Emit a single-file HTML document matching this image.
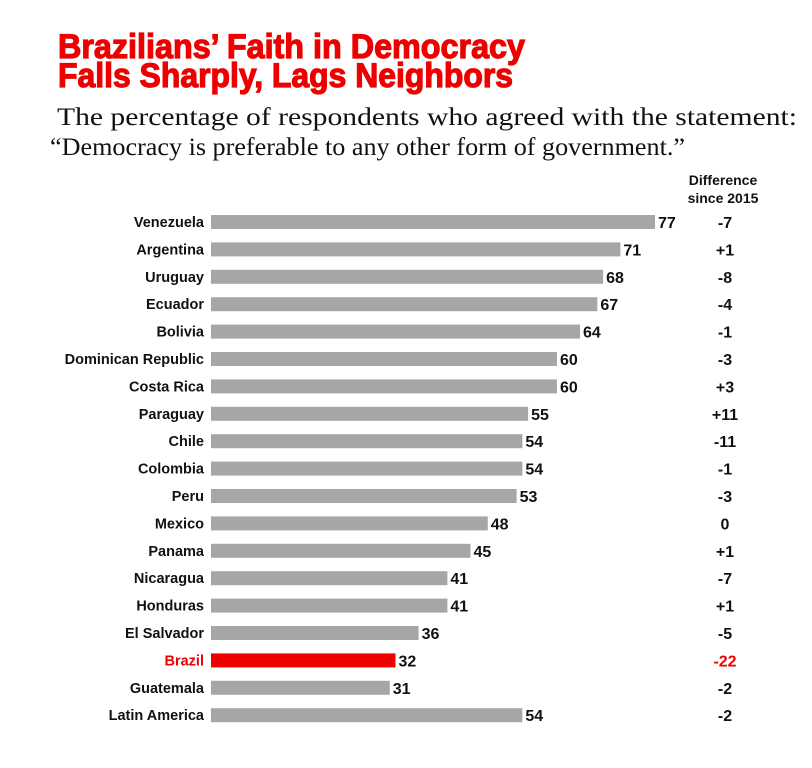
<!DOCTYPE html>
<html><head><meta charset="utf-8"><style>
html,body{margin:0;padding:0;background:#fff;}
svg{display:block;}
</style></head><body>
<svg id="chart" width="812" height="768" xmlns="http://www.w3.org/2000/svg">
<text x="58" y="58" font-family="Liberation Sans, sans-serif" font-weight="bold" font-size="34" fill="#ee0000" stroke="#ee0000" stroke-width="1.2" textLength="467" lengthAdjust="spacingAndGlyphs">Brazilians’ Faith in Democracy</text>
<text x="58" y="87" font-family="Liberation Sans, sans-serif" font-weight="bold" font-size="34" fill="#ee0000" stroke="#ee0000" stroke-width="1.2" textLength="455" lengthAdjust="spacingAndGlyphs">Falls Sharply, Lags Neighbors</text>
<text x="57" y="125" font-family="Liberation Serif, serif" font-size="25" fill="#111" textLength="740" lengthAdjust="spacingAndGlyphs">The percentage of respondents who agreed with the statement:</text>
<text x="50" y="155" font-family="Liberation Serif, serif" font-size="25" fill="#111" textLength="635" lengthAdjust="spacingAndGlyphs">“Democracy is preferable to any other form of government.”</text>
<text x="723" y="185" text-anchor="middle" font-family="Liberation Sans, sans-serif" font-weight="bold" font-size="14" fill="#111">Difference</text>
<text x="723" y="203" text-anchor="middle" font-family="Liberation Sans, sans-serif" font-weight="bold" font-size="14" fill="#111">since 2015</text>
<g id="rows"></g>
</svg>
<script>
const countries=["Venezuela","Argentina","Uruguay","Ecuador","Bolivia","Dominican Republic","Costa Rica","Paraguay","Chile","Colombia","Peru","Mexico","Panama","Nicaragua","Honduras","El Salvador","Brazil","Guatemala","Latin America"];
const values=[77,71,68,67,64,60,60,55,54,54,53,48,45,41,41,36,32,31,54];
const diffs=["-7","+1","-8","-4","-1","-3","+3","+11","-11","-1","-3","0","+1","-7","+1","-5","-22","-2","-2"];
const highlight="Brazil";
const x0=211, pxPer=5.766, y0=222, step=27.4, bh=14;
const xs=v=>x0+v*pxPer;
const ys=i=>y0+i*step;
const g=document.getElementById('rows');
const NS="http://www.w3.org/2000/svg";
function mk(tag,attrs,txt){const e=document.createElementNS(NS,tag);for(const k in attrs)e.setAttribute(k,attrs[k]);if(txt!==undefined)e.textContent=txt;g.appendChild(e);return e;}
countries.forEach((c,i)=>{
  const hl=c===highlight, col=hl?"#ee0000":"#111", y=ys(i);
  const l=mk('text',{x:204,y:y+5,'text-anchor':'end','font-family':'Liberation Sans, sans-serif','font-weight':'bold','font-size':14.5,fill:col},c);
  
  
  const b=mk('rect',{x:x0,y:y-bh/2,width:xs(values[i])-x0,height:bh,fill:hl?"#ee0000":"#a6a6a6"});
  
  
  const v=mk('text',{x:xs(values[i])+3,y:y+6,'font-family':'Liberation Sans, sans-serif','font-weight':'bold','font-size':16,fill:"#111"},String(values[i]));
  
  
  const d=mk('text',{x:725,y:y+6,'text-anchor':'middle','font-family':'Liberation Sans, sans-serif','font-weight':'bold','font-size':16,fill:col},diffs[i]);
  
  
});
</script>
</body></html>
